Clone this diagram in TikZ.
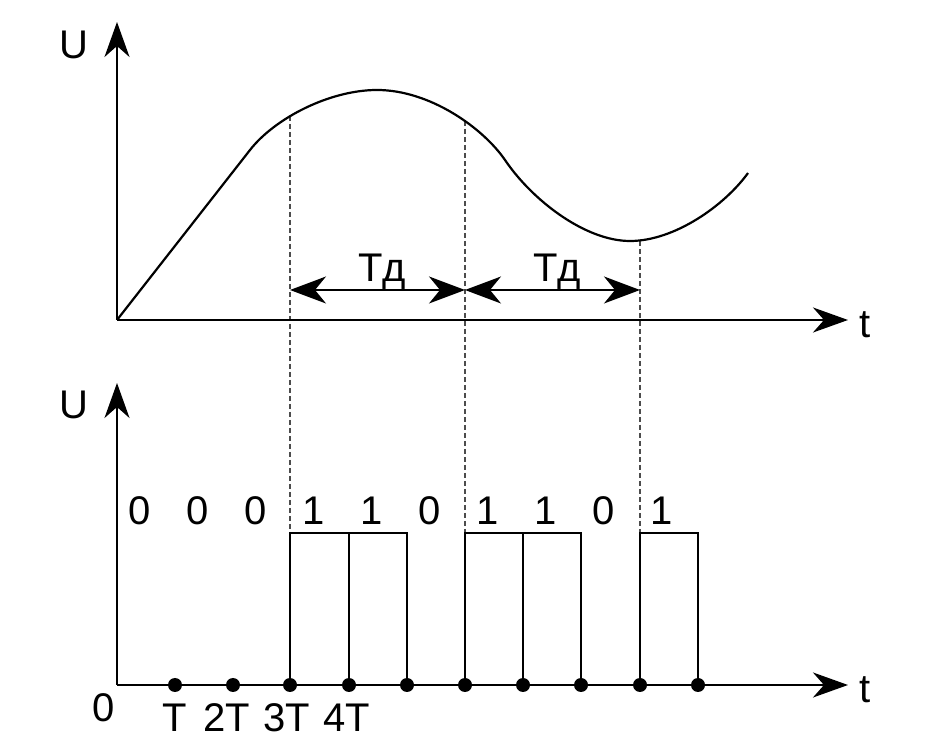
\documentclass[tikz,border=0pt]{standalone}
\usepackage{fontspec}
\setmainfont{Liberation Sans}
\usetikzlibrary{arrows.meta}
\usetikzlibrary{positioning}

\tikzset{
  axis/.style={line width=1.1pt,-{Stealth[length=17.5pt,width=12.5pt,inset=5.5pt]}},
  period/.style={line width=0.8pt,{Stealth[length=18pt,width=13.5pt,inset=5.5pt]}-{Stealth[length=18pt,width=13.5pt,inset=5.5pt]}},
  guide/.style={dash pattern=on 2.5pt off 1.5pt,line width=0.6pt,black!70},
  pulse/.style={line width=1.1pt},
  lbl/.style={font=\fontsize{20}{22}\selectfont,inner sep=0pt,anchor=base},
}

\begin{document}
\begin{tikzpicture}[x=0.5pt,y=-0.5pt]
		\useasboundingbox (0,0) rectangle (927,742);
		% upper plot
		\coordinate (o1) at (117,320);
		\coordinate (u1) at (117,22);
		\coordinate (t1) at (848,320);
		\coordinate (c1) at (290,116);
		\coordinate (c2) at (465,121);
		\coordinate (c3) at (640,241);
		\coordinate (a1) at (290,290);
		\coordinate (a2) at (465,290);
		\coordinate (a3) at (640,290);
		% lower plot
		\coordinate (o2) at (117,685);
		\coordinate (u2) at (117,383);
		\coordinate (t2) at (848,685);
		\coordinate (h) at (0,533);
		\coordinate (d1) at (175,685);
		\coordinate (d2) at (233,685);
		\coordinate (d3) at (290,685);
		\coordinate (d4) at (349,685);
		\coordinate (d5) at (407,685);
		\coordinate (d6) at (465,685);
		\coordinate (d7) at (523,685);
		\coordinate (d8) at (581,685);
		\coordinate (d9) at (640,685);
		\coordinate (d10) at (698,685);

		\draw[guide] (c1) to (d3);
		\draw[guide] (c2) to (d6);
		\draw[guide] (c3) to (d9);

		\draw[axis] (o1) to (u1);
		\draw[axis] (o1) to (t1);
		\draw[line width=1.1pt] (o1) -- (250,150) .. controls (275,118) and (330,90) .. (377,90)
		    .. controls (430,90) and (483,128) .. (505,160)
		    .. controls (532,200) and (585,241) .. (630,241)
		    .. controls (675,241) and (725,205) .. (748,173);
		\draw[period] (a1) to (a2);
		\draw[period] (a2) to (a3);
		\node[lbl] (U1) at (74,59) {U};
		\node[lbl] (tt1) at (865,338) {t};
		\node[lbl] (Td1) at (382,282) {Тд};
		\node[lbl] (Td2) at (557,282) {Тд};

		\draw[axis] (o2) to (u2);
		\draw[axis] (o2) to (t2);
		\draw[pulse] (d3) |- (d5 |- h) -- (d5);
		\draw[pulse] (d4) -- (d4 |- h);
		\draw[pulse] (d6) |- (d8 |- h) -- (d8);
		\draw[pulse] (d7) -- (d7 |- h);
		\draw[pulse] (d9) |- (d10 |- h) -- (d10);
		\fill (d1) circle (3.5pt);
		\fill (d2) circle (3.5pt);
		\fill (d3) circle (3.5pt);
		\fill (d4) circle (3.5pt);
		\fill (d5) circle (3.5pt);
		\fill (d6) circle (3.5pt);
		\fill (d7) circle (3.5pt);
		\fill (d8) circle (3.5pt);
		\fill (d9) circle (3.5pt);
		\fill (d10) circle (3.5pt);
		\node[lbl] (U2) at (74,419) {U};
		\node[lbl] (tt2) at (865,703) {t};
		\node[lbl] (zero) at (104,722) {0};
		\node[lbl] (l1) at (175,732) {T};
		\node[lbl] (l2) at (227,732) {2T};
		\node[lbl] (l3) at (287,732) {3T};
		\node[lbl] (l4) at (347,732) {4T};
		\node[lbl] (b1) at (140,525) {0};
		\node[lbl] (b2) at (198,525) {0};
		\node[lbl] (b3) at (256,525) {0};
		\node[lbl] (b4) at (314,525) {1};
		\node[lbl] (b5) at (372,525) {1};
		\node[lbl] (b6) at (430,525) {0};
		\node[lbl] (b7) at (488,525) {1};
		\node[lbl] (b8) at (546,525) {1};
		\node[lbl] (b9) at (604,525) {0};
		\node[lbl] (b10) at (662,525) {1};
\end{tikzpicture}
\end{document}
